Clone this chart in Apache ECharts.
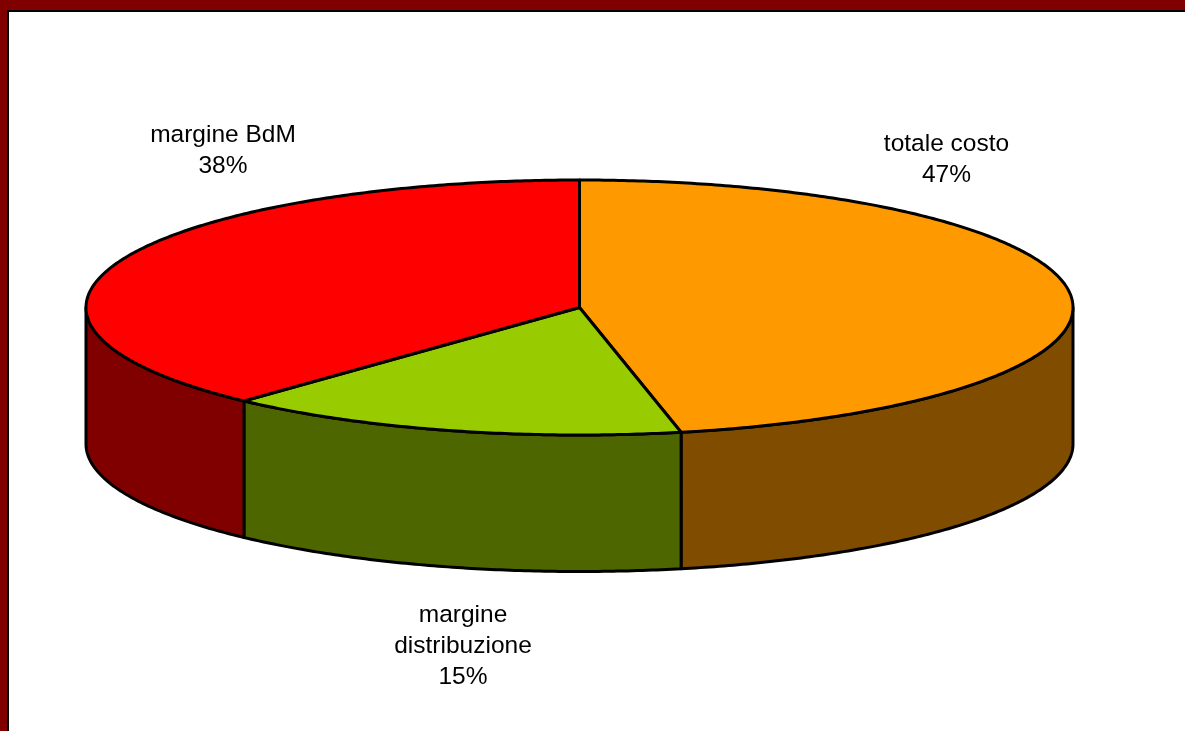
<!DOCTYPE html>
<html>
<head>
<meta charset="utf-8">
<style>html,body{margin:0;padding:0;background:#fff}#c{width:1185px;height:731px}</style>
<script src="https://cdn.jsdelivr.net/npm/echarts@6/dist/echarts.min.js"></script>
</head>
<body>
<div id="c"></div>
<script>
const categories = ['totale costo', 'margine distribuzione', 'margine BdM'];
const labelLines = [['totale costo'], ['margine', 'distribuzione'], ['margine BdM']];
const values = [46.7, 15.2, 38.1];
const topColors = ['#FF9900', '#99CC00', '#FF0000'];
const sideColors = ['#804D00', '#4D6600', '#800000'];

const GEO = {cx: 579.5, cy: 307.5, rx: 493.5, ry: 127.5, depth: 136.5, lw: 3};
const labelAnchors = [[946.5, 159.5], [463, 646.5], [223, 150.5]];
const total = values.reduce((a, b) => a + b, 0);

function pt(a, dy) {
  return [GEO.cx + GEO.rx * Math.sin(a), GEO.cy - GEO.ry * Math.cos(a) + (dy || 0)];
}
function arc(a0, a1, dy) {
  const pts = [], n = Math.max(2, Math.ceil(Math.abs(a1 - a0) / 0.01));
  for (let i = 0; i <= n; i++) pts.push(pt(a0 + (a1 - a0) * i / n, dy));
  return pts;
}
function range(i) {
  let s = 0;
  for (let k = 0; k < i; k++) s += values[k];
  return [s / total * 2 * Math.PI, (s + values[i]) / total * 2 * Math.PI];
}
const seriesData = categories.map((c, i) => ({name: c, value: values[i]}));

function renderSide(params) {
  const i = params.dataIndex;
  const [a0, a1] = range(i);
  const lo = Math.max(a0, Math.PI / 2), hi = Math.min(a1, Math.PI * 1.5);
  if (hi <= lo) return {type: 'group', children: []};
  const points = arc(lo, hi, 0).concat(arc(hi, lo, GEO.depth));
  return {
    type: 'polygon',
    shape: {points},
    style: {fill: sideColors[i], stroke: '#000', lineWidth: GEO.lw, lineJoin: 'round'}
  };
}
function renderTop(params) {
  const i = params.dataIndex;
  const [a0, a1] = range(i);
  const points = [[GEO.cx, GEO.cy]].concat(arc(a0, a1, 0));
  return {
    type: 'polygon',
    shape: {points},
    style: {fill: topColors[i], stroke: '#000', lineWidth: GEO.lw, lineJoin: 'round'}
  };
}
function renderLabel(params) {
  const i = params.dataIndex;
  const [x, y] = labelAnchors[i];
  return {
    type: 'text',
    style: {
      x, y,
      text: labelLines[i].concat([Math.round(values[i]) + '%']).join('\n'),
      font: '24.5px "Liberation Sans", Arial, sans-serif',
      lineHeight: 31,
      fill: '#000',
      align: 'center',
      verticalAlign: 'middle'
    }
  };
}

const chart = echarts.init(document.getElementById('c'), null, {renderer: 'canvas'});
chart.setOption({
  animation: false,
  backgroundColor: '#fff',
  tooltip: {show: false},
  graphic: [
    {type: 'rect', shape: {x: 0, y: 0, width: 1185, height: 10}, style: {fill: '#800000'}, z: 10},
    {type: 'rect', shape: {x: 0, y: 0, width: 7, height: 731}, style: {fill: '#800000'}, z: 10},
    {type: 'rect', shape: {x: 7, y: 10, width: 1178, height: 2}, style: {fill: '#000'}, z: 10},
    {type: 'rect', shape: {x: 7, y: 10, width: 2, height: 721}, style: {fill: '#000'}, z: 10}
  ],
  series: [
    {type: 'custom', coordinateSystem: 'none', data: seriesData, renderItem: renderSide, silent: true, z: 1},
    {type: 'custom', coordinateSystem: 'none', data: seriesData, renderItem: renderTop, silent: true, z: 2},
    {type: 'custom', coordinateSystem: 'none', data: seriesData, renderItem: renderLabel, silent: true, z: 3}
  ]
});
</script>
</body>
</html>
